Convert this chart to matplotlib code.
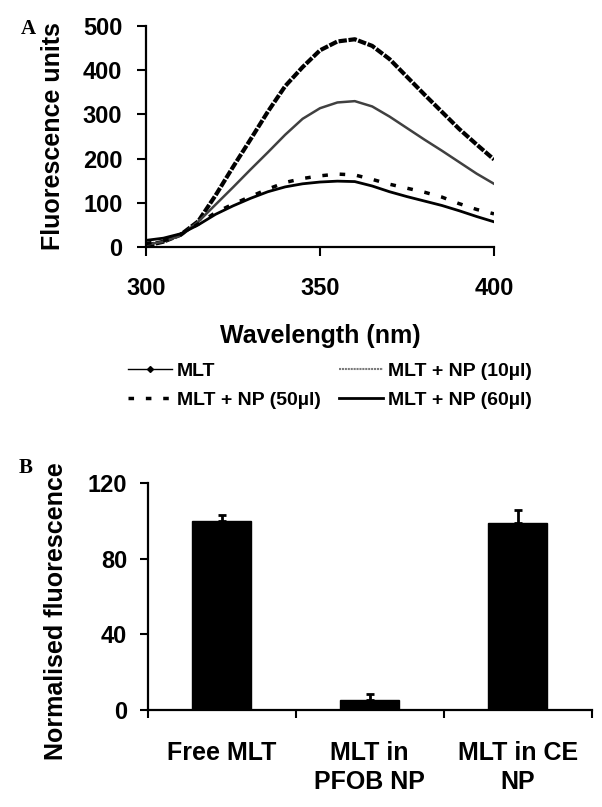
import matplotlib.pyplot as plt
from matplotlib.lines import Line2D

# panel A: emission spectra
wavelength = [300, 305, 310, 315, 320, 325, 330, 335, 340, 345, 350,
              355, 360, 365, 370, 375, 380, 385, 390, 395, 400]
mlt = [3, 12, 28, 58, 117, 181, 243, 306, 364, 407, 445,
       465, 470, 455, 425, 385, 345, 306, 267, 232, 198]
mlt_np10 = [5, 12, 26, 57, 96, 135, 175, 214, 254, 290, 314,
            327, 330, 318, 295, 269, 243, 218, 192, 166, 143]
mlt_np50 = [8, 14, 28, 52, 78, 97, 114, 131, 146, 155, 161,
            165, 163, 153, 142, 133, 124, 113, 98, 85, 75]
mlt_np60 = [15, 20, 30, 50, 74, 93, 110, 125, 136, 143, 147,
            149, 148, 138, 125, 114, 104, 94, 82, 69, 57]
series_labels = ['MLT', 'MLT + NP (10µl)', 'MLT + NP (50µl)', 'MLT + NP (60µl)']

# panel B: normalised fluorescence
groups = ['Free MLT', 'MLT in\nPFOB NP', 'MLT in CE\nNP']
norm_fluor = [100.2, 5.3, 99.1]
norm_err = [3.0, 3.2, 6.8]

plt.rcParams['font.family'] = ['Liberation Sans', 'DejaVu Sans']
plt.rcParams['font.weight'] = 'bold'

W, H = 602, 807
fig = plt.figure(figsize=(W / 100, H / 100), dpi=100)

# ---------------- panel A ----------------
ax1 = fig.add_axes([146 / W, 1 - 247 / H, 348 / W, 221 / H])
ax1.plot(wavelength, mlt, color='black', lw=3, dashes=(2, 0.4))
ax1.plot(wavelength, mlt_np10, color='#404040', lw=1.8)
ax1.plot(wavelength, mlt_np50, color='black', lw=2.5, dashes=(1.6, 3.4))
ax1.plot(wavelength, mlt_np60, color='black', lw=2)

ax1.set_xlim(300, 400)
ax1.set_ylim(0, 500)
ax1.set_xticks([300, 350, 400])
ax1.set_yticks([0, 100, 200, 300, 400, 500])
for s in ['top', 'right']:
    ax1.spines[s].set_visible(False)
for s in ['left', 'bottom']:
    ax1.spines[s].set_linewidth(1.6)
ax1.tick_params(axis='y', direction='out', length=6.5, width=1.5, pad=10.5, labelsize=17)
ax1.tick_params(axis='x', direction='out', length=6.5, width=1.5, pad=15, labelsize=17)

fig.text(53.4 / W, 1 - 136.5 / H, 'Fluorescence units', rotation=90,
         ha='center', va='center', fontsize=18, fontweight='bold')
fig.text(320 / W, 1 - 336 / H, 'Wavelength (nm)', ha='center', va='center',
         fontsize=18, fontweight='bold')

legend_elements = [
    Line2D([0], [0], color='black', lw=1, marker='D', markersize=3),
    Line2D([0], [0], color='black', lw=2.5, dashes=(1.6, 3.4)),
    Line2D([0], [0], color='#7a7a7a', lw=1.5, dashes=(1, 0.4)),
    Line2D([0], [0], color='black', lw=2),
]
fig.legend(legend_elements,
           [series_labels[0], series_labels[2], series_labels[1], series_labels[3]],
           ncol=2, loc='upper left', bbox_to_anchor=(128 / W, 1 - 362 / H),
           frameon=False, fontsize=14, borderpad=0, borderaxespad=0,
           handlelength=2.27, handletextpad=0.26, columnspacing=0.9,
           labelspacing=0.6)

fig.text(28 / W, 1 - 29 / H, 'A', family='Liberation Serif', fontweight='bold',
         fontsize=15, ha='center', va='center')

# ---------------- panel B ----------------
ax2 = fig.add_axes([147.7 / W, 1 - 710 / H, 444 / W, 226.7 / H])
pos = range(len(groups))
ax2.bar(pos, norm_fluor, width=0.4, color='black', edgecolor='black')
ax2.errorbar(pos, norm_fluor, yerr=[[0] * len(norm_err), norm_err], fmt='none',
             ecolor='black', elinewidth=2, capsize=3, capthick=2)

ax2.set_xlim(-0.5, 2.5)
ax2.set_ylim(0, 120)
ax2.set_yticks([0, 40, 80, 120])
ax2.set_xticks(list(pos))
ax2.set_xticklabels(groups, fontsize=18, linespacing=1.3)
ax2.set_xticks([-0.5, 0.5, 1.5, 2.5], minor=True)
for s in ['top', 'right']:
    ax2.spines[s].set_visible(False)
for s in ['left', 'bottom']:
    ax2.spines[s].set_linewidth(1.6)
ax2.tick_params(axis='y', direction='out', length=5.5, width=1.5, pad=9.4, labelsize=17)
ax2.tick_params(axis='x', which='major', length=0, pad=22)
ax2.tick_params(axis='x', which='minor', direction='out', length=6, width=1.5)

fig.text(56.4 / W, 1 - 611 / H, 'Normalised fluorescence', rotation=90,
         ha='center', va='center', fontsize=18, fontweight='bold')
fig.text(26 / W, 1 - 468 / H, 'B', family='Liberation Serif', fontweight='bold',
         fontsize=15, ha='center', va='center')

plt.savefig('out.png', dpi=100)
plt.close()
